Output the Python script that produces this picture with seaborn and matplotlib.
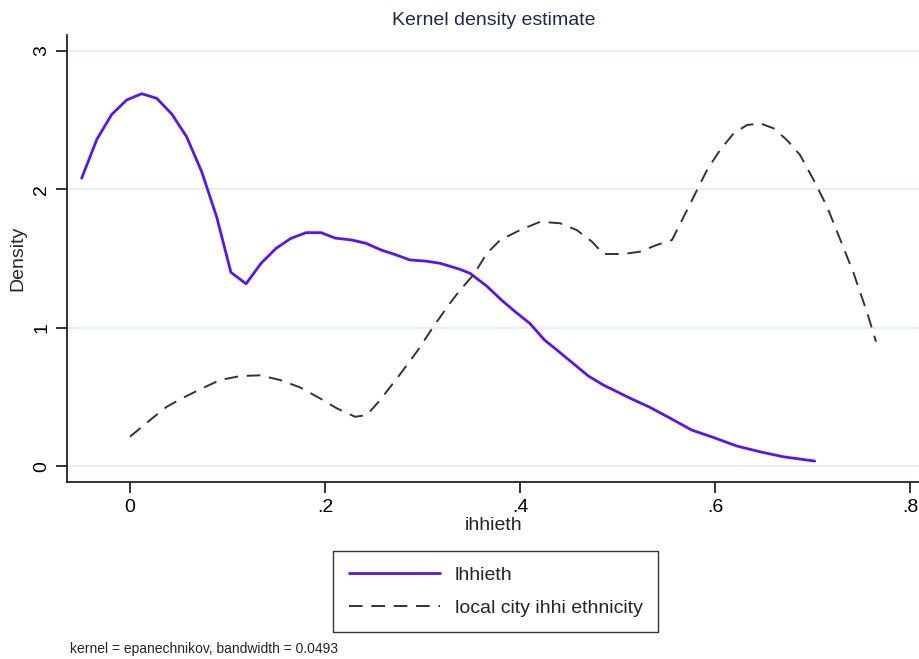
import numpy as np
import pandas as pd
import matplotlib
matplotlib.use("Agg")
import matplotlib.pyplot as plt
import seaborn as sns

# ---- data ----
x_lh = [-0.0496, -0.034, -0.0188, -0.0034, 0.012, 0.0274, 0.0428, 0.058, 0.0735,
        0.0889, 0.1035, 0.119, 0.1344, 0.1498, 0.165, 0.1806, 0.196, 0.2103,
        0.2274, 0.242, 0.2575, 0.273, 0.287, 0.3026, 0.318, 0.3385, 0.3488,
        0.366, 0.381, 0.396, 0.41, 0.425, 0.4377, 0.448, 0.470, 0.4854, 0.513,
        0.532, 0.554, 0.576, 0.598, 0.622, 0.646, 0.670, 0.702]
y_lh = [2.08, 2.36, 2.54, 2.645, 2.69, 2.657, 2.544, 2.38, 2.127,
        1.80, 1.40, 1.318, 1.466, 1.574, 1.646, 1.687, 1.687, 1.648,
        1.634, 1.61, 1.562, 1.526, 1.49, 1.482, 1.466, 1.422, 1.393,
        1.30, 1.20, 1.11, 1.032, 0.912, 0.84, 0.78, 0.652, 0.587, 0.491,
        0.43, 0.347, 0.262, 0.209, 0.147, 0.105, 0.069, 0.038]

x_city = [0.0, 0.0205, 0.0376, 0.053, 0.0718, 0.0923, 0.113, 0.1334, 0.154,
          0.1744, 0.195, 0.212, 0.2308, 0.2428, 0.2565, 0.277, 0.294, 0.311,
          0.328, 0.3385, 0.352, 0.366, 0.3796, 0.40, 0.4206, 0.441, 0.458,
          0.4737, 0.4854, 0.506, 0.523, 0.540, 0.5557, 0.566, 0.578, 0.5916,
          0.605, 0.619, 0.6326, 0.646, 0.66, 0.6735, 0.687, 0.701, 0.7147,
          0.7284, 0.742, 0.756, 0.7649]
y_city = [0.214, 0.334, 0.43, 0.49, 0.556, 0.623, 0.652, 0.657, 0.623,
          0.570, 0.49, 0.419, 0.358, 0.370, 0.479, 0.666, 0.827, 1.008,
          1.177, 1.273, 1.381, 1.538, 1.634, 1.706, 1.766, 1.755, 1.706,
          1.622, 1.533, 1.533, 1.55, 1.598, 1.634, 1.778, 1.947, 2.139,
          2.284, 2.404, 2.464, 2.476, 2.44, 2.356, 2.248, 2.067, 1.874,
          1.634, 1.393, 1.105, 0.90]

series_names = ["lhhieth", "local city ihhi ethnicity"]
x_ticks = [0, 0.2, 0.4, 0.6, 0.8]
x_tick_labels = ["0", ".2", ".4", ".6", ".8"]
y_ticks = [0, 1, 2, 3]
y_tick_labels = ["0", "1", "2", "3"]

df = pd.concat([
    pd.DataFrame({"x": x_lh, "y": y_lh, "series": series_names[0]}),
    pd.DataFrame({"x": x_city, "y": y_city, "series": series_names[1]}),
], ignore_index=True)

sns.set_theme(style="white")
plt.rcParams["font.family"] = ["Liberation Sans", "DejaVu Sans"]

fig = plt.figure(figsize=(9.2, 6.59), dpi=100)
ax = fig.add_axes([67 / 920, 1 - 482 / 659, 1 - 67 / 920, (482 - 35) / 659])

purple = "#5a14f0"
sns.lineplot(data=df[df.series == series_names[0]], x="x", y="y", ax=ax,
             color=purple, lw=2.0, sort=False, label=series_names[0], legend=False)
sns.lineplot(data=df[df.series == series_names[1]], x="x", y="y", ax=ax,
             color="#333333", lw=1.4, sort=False, label=series_names[1], legend=False)
ax.lines[1].set_dashes([7, 4.5])

ax.set_xlim(-0.0646, 0.81)
ax.set_ylim(-0.113, 3.114)

ax.set_xticks(x_ticks)
ax.set_xticklabels(x_tick_labels, fontsize=14)
ax.set_yticks(y_ticks)
ax.set_yticklabels(y_tick_labels, fontsize=14, rotation=90, va="center")

for y in y_ticks:
    ax.axhline(y, color="#e6eff2", lw=1.5, zorder=0)

for s in ["top", "right"]:
    ax.spines[s].set_visible(False)
for s in ["left", "bottom"]:
    ax.spines[s].set_color("#222222")
    ax.spines[s].set_linewidth(1.3)

ax.tick_params(axis="both", which="major", direction="out", length=8, width=1.3,
               color="#222222", labelcolor="black", bottom=True, left=True, pad=4)

ax.set_xlabel("ihhieth", fontsize=14, labelpad=1)
ax.set_ylabel("Density", fontsize=14, labelpad=5)
ax.set_title("Kernel density estimate", fontsize=14, color="#1e2a50", pad=7)

handles = ax.lines[:2]
leg = fig.legend(handles, series_names, loc="center",
                 bbox_to_anchor=(495.5 / 920, 1 - 591.5 / 659),
                 fontsize=14, frameon=True, fancybox=False, edgecolor="black",
                 handlelength=4.7, handletextpad=0.75, labelspacing=0.77,
                 borderpad=0.8, borderaxespad=0)
leg.get_frame().set_linewidth(1.0)

fig.text(70 / 920, 1 - 649 / 659, "kernel = epanechnikov, bandwidth = 0.0493",
         fontsize=10, va="center", ha="left")

fig.savefig("out.png", dpi=100)
